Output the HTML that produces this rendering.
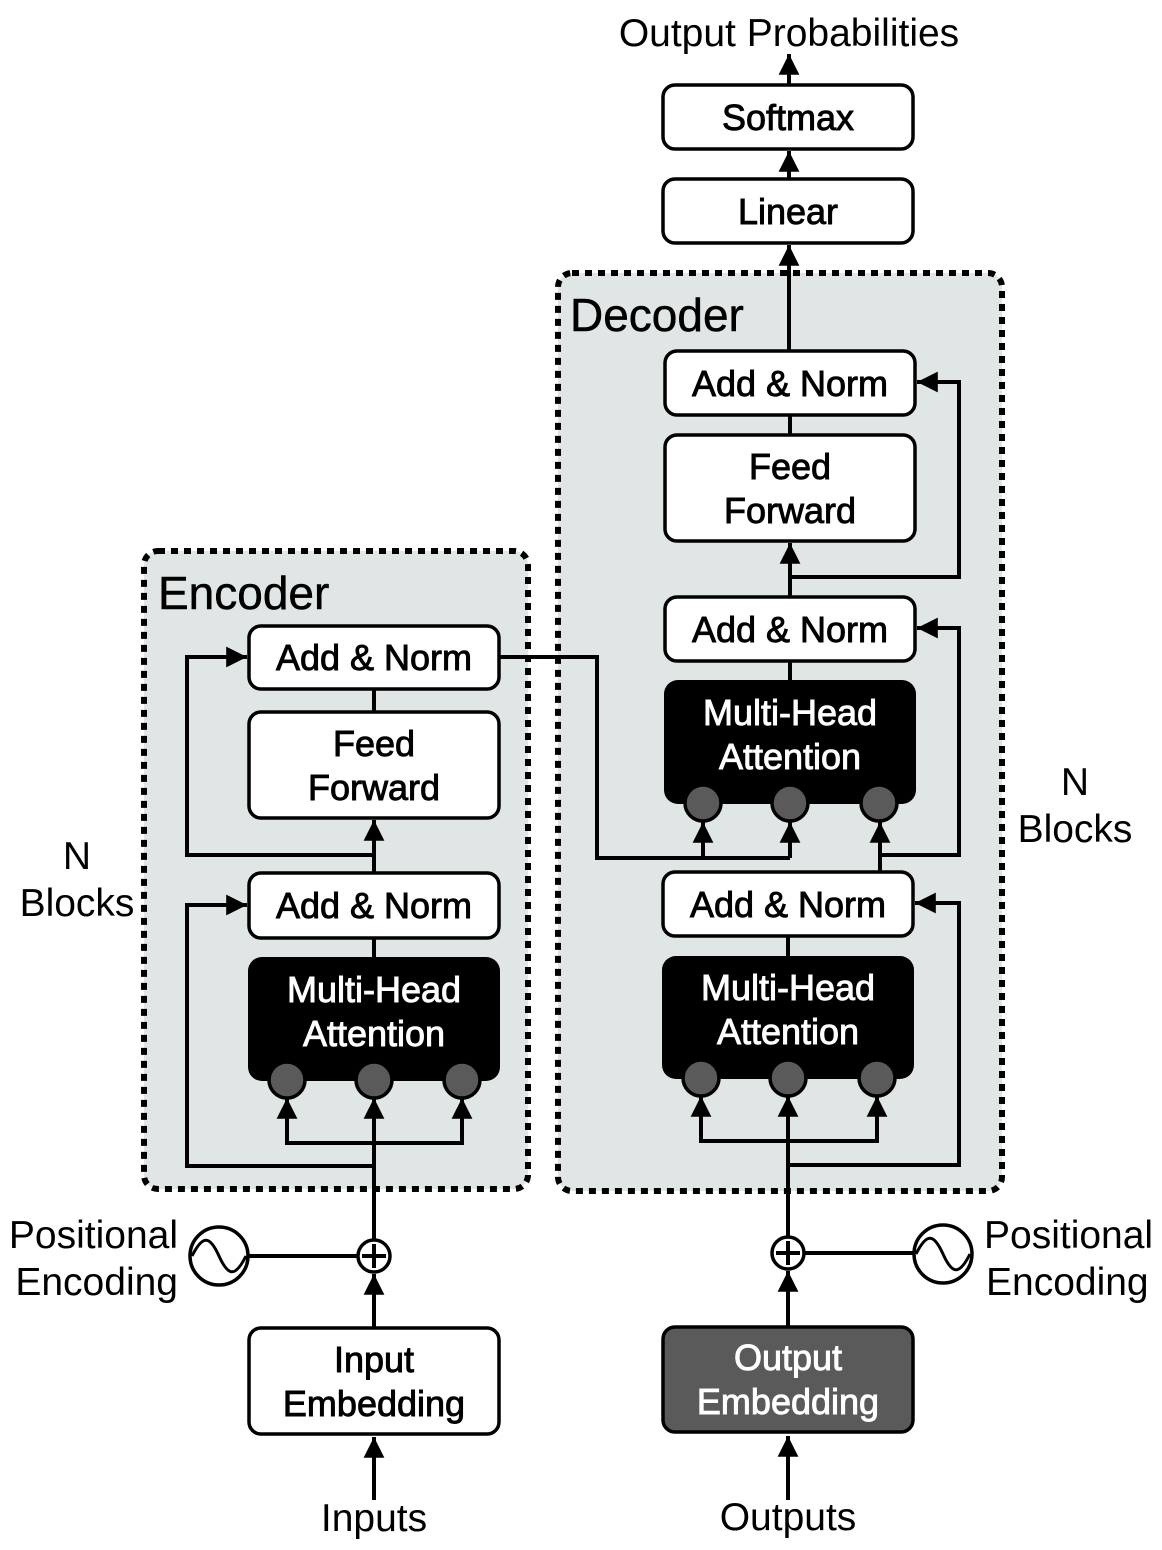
<!DOCTYPE html>
<html><head><meta charset="utf-8"><style>
html,body{margin:0;padding:0;background:#fff}
svg{display:block}
text{font-family:"Liberation Sans",Arial,sans-serif}
.b{fill:#fff;stroke:#000;stroke-width:3.5}
.l{fill:none;stroke:#000;stroke-width:4}
.t{font-size:36px;text-anchor:middle;fill:#000;stroke:#000;stroke-width:0.9}
.w{font-size:36px;text-anchor:middle;fill:#fff;stroke:#fff;stroke-width:0.9}
.c{fill:#5a5a5a;stroke:#000;stroke-width:3.5}
.lab{font-size:39px;fill:#000}
</style></head><body>
<svg width="1162" height="1550" viewBox="0 0 1162 1550" xmlns="http://www.w3.org/2000/svg">
<defs>
<marker id="a" viewBox="0 0 10 10" refX="10" refY="5" markerWidth="5.2" markerHeight="5.2" markerUnits="strokeWidth" orient="auto"><path d="M0,0 L10,5 L0,10 z" fill="#000"/></marker>
</defs>
<rect x="144" y="551" width="384" height="638" rx="14" fill="#dfe6e5" stroke="#000" stroke-width="6" stroke-dasharray="7,6"/>
<rect x="558" y="273" width="444" height="918" rx="14" fill="#dfe6e5" stroke="#000" stroke-width="6" stroke-dasharray="7,6"/>
<text x="158" y="609" font-size="46" fill="#000" stroke="#000" stroke-width="0.5">Encoder</text>
<text x="570" y="331" font-size="46" fill="#000" stroke="#000" stroke-width="0.5">Decoder</text>

<path class="l" d="M374,1240 L374,1098" marker-end="url(#a)"/>
<path class="l" d="M374,1143 L287,1143 L287,1098" marker-end="url(#a)"/>
<path class="l" d="M374,1143 L462,1143 L462,1098" marker-end="url(#a)"/>
<path class="l" d="M374,1166 L187,1166 L187,905 L247,905" marker-end="url(#a)"/>
<path class="l" d="M374,938 L374,957"/>
<path class="l" d="M374,873 L374,820" marker-end="url(#a)"/>
<path class="l" d="M374,855 L187,855 L187,657 L247,657" marker-end="url(#a)"/>
<path class="l" d="M374,689 L374,712"/>
<path class="l" d="M499,657 L597,657 L597,858 L790,858"/>
<path class="l" d="M703,858 L703,822" marker-end="url(#a)"/>
<path class="l" d="M790,858 L790,822" marker-end="url(#a)"/>
<path class="l" d="M248,1256 L358,1256"/>
<path class="l" d="M374,1328 L374,1274" marker-end="url(#a)"/>
<path class="l" d="M374,1500 L374,1437" marker-end="url(#a)"/>

<rect class="b" x="249" y="626" width="250" height="63" rx="12"/>
<text class="t" x="374" y="670">Add &amp; Norm</text>
<rect class="b" x="249" y="712" width="250" height="106" rx="12"/>
<text class="t" x="374" y="756">Feed</text><text class="t" x="374" y="800">Forward</text>
<rect class="b" x="249" y="873" width="250" height="65" rx="12"/>
<text class="t" x="374" y="918">Add &amp; Norm</text>
<rect x="248" y="957" width="252" height="124" rx="14" fill="#000"/>
<text class="w" x="374" y="1002">Multi-Head</text><text class="w" x="374" y="1046">Attention</text>
<circle class="c" cx="287" cy="1080" r="18"/><circle class="c" cx="374" cy="1080" r="18"/><circle class="c" cx="462" cy="1080" r="18"/>

<circle cx="374" cy="1256" r="16" fill="#fff" stroke="#000" stroke-width="3.5"/>
<path class="l" d="M374,1244 V1268 M362,1256 H386" stroke-width="3"/>
<circle cx="219" cy="1256" r="29" fill="#fff" stroke="#000" stroke-width="3.5"/>
<path d="M192,1256 C203,1234 210,1236 219,1256 C228,1276 235,1278 246,1256" fill="none" stroke="#000" stroke-width="3"/>

<rect class="b" x="249" y="1328" width="250" height="106" rx="12"/>
<text class="t" x="374" y="1372">Input</text><text class="t" x="374" y="1416">Embedding</text>
<text class="lab" x="374" y="1531" text-anchor="middle">Inputs</text>
<text class="lab" x="178" y="1248" text-anchor="end">Positional</text>
<text class="lab" x="178" y="1295" text-anchor="end">Encoding</text>
<text class="lab" x="77" y="869" text-anchor="middle">N</text>
<text class="lab" x="77" y="916" text-anchor="middle">Blocks</text>

<path class="l" d="M788,1500 L788,1436" marker-end="url(#a)"/>
<path class="l" d="M788,1327 L788,1271" marker-end="url(#a)"/>
<path class="l" d="M804,1253 L914,1253"/>
<path class="l" d="M788,1237 L788,1096" marker-end="url(#a)"/>
<path class="l" d="M788,1141 L701,1141 L701,1096" marker-end="url(#a)"/>
<path class="l" d="M788,1141 L877,1141 L877,1096" marker-end="url(#a)"/>
<path class="l" d="M788,1165 L959,1165 L959,903 L915,903" marker-end="url(#a)"/>
<path class="l" d="M788,936 L788,956"/>
<path class="l" d="M880,872 L880,822" marker-end="url(#a)"/>
<path class="l" d="M880,855 L959,855 L959,628 L917,628" marker-end="url(#a)"/>
<path class="l" d="M790,661 L790,680"/>
<path class="l" d="M790,597 L790,543" marker-end="url(#a)"/>
<path class="l" d="M790,577 L959,577 L959,382 L917,382" marker-end="url(#a)"/>
<path class="l" d="M790,415 L790,435"/>
<path class="l" d="M789,351 L789,245" marker-end="url(#a)"/>
<path class="l" d="M789,179 L789,151" marker-end="url(#a)"/>
<path class="l" d="M789,85 L789,54" marker-end="url(#a)"/>

<rect class="b" x="663" y="85" width="250" height="64" rx="12"/>
<text class="t" x="788" y="130">Softmax</text>
<rect class="b" x="663" y="179" width="250" height="64" rx="12"/>
<text class="t" x="788" y="224">Linear</text>
<rect class="b" x="665" y="351" width="250" height="64" rx="12"/>
<text class="t" x="790" y="396">Add &amp; Norm</text>
<rect class="b" x="665" y="435" width="250" height="106" rx="12"/>
<text class="t" x="790" y="479">Feed</text><text class="t" x="790" y="523">Forward</text>
<rect class="b" x="665" y="597" width="250" height="64" rx="12"/>
<text class="t" x="790" y="642">Add &amp; Norm</text>
<rect x="664" y="680" width="252" height="124" rx="14" fill="#000"/>
<text class="w" x="790" y="725">Multi-Head</text><text class="w" x="790" y="769">Attention</text>
<circle class="c" cx="703" cy="803" r="18"/><circle class="c" cx="790" cy="803" r="18"/><circle class="c" cx="879" cy="803" r="18"/>
<rect class="b" x="663" y="872" width="250" height="64" rx="12"/>
<text class="t" x="788" y="917">Add &amp; Norm</text>
<rect x="662" y="956" width="252" height="123" rx="14" fill="#000"/>
<text class="w" x="788" y="1000">Multi-Head</text><text class="w" x="788" y="1044">Attention</text>
<circle class="c" cx="701" cy="1078" r="18"/><circle class="c" cx="788" cy="1078" r="18"/><circle class="c" cx="877" cy="1078" r="18"/>

<circle cx="788" cy="1253" r="16" fill="#fff" stroke="#000" stroke-width="3.5"/>
<path class="l" d="M788,1241 V1265 M776,1253 H800" stroke-width="3"/>
<circle cx="943" cy="1254" r="29" fill="#fff" stroke="#000" stroke-width="3.5"/>
<path d="M916,1254 C927,1232 934,1234 943,1254 C952,1274 959,1276 970,1254" fill="none" stroke="#000" stroke-width="3"/>

<rect x="663" y="1327" width="250" height="105" rx="12" fill="#5a5a5a" stroke="#000" stroke-width="3.5"/>
<text class="w" x="788" y="1370">Output</text><text class="w" x="788" y="1414">Embedding</text>
<text class="lab" x="788" y="1530" text-anchor="middle">Outputs</text>
<text class="lab" x="984" y="1248">Positional</text>
<text class="lab" x="986" y="1295">Encoding</text>
<text class="lab" x="1075" y="795" text-anchor="middle">N</text>
<text class="lab" x="1075" y="842" text-anchor="middle">Blocks</text>
<text class="lab" x="789" y="46" text-anchor="middle">Output Probabilities</text>
</svg>
</body></html>
